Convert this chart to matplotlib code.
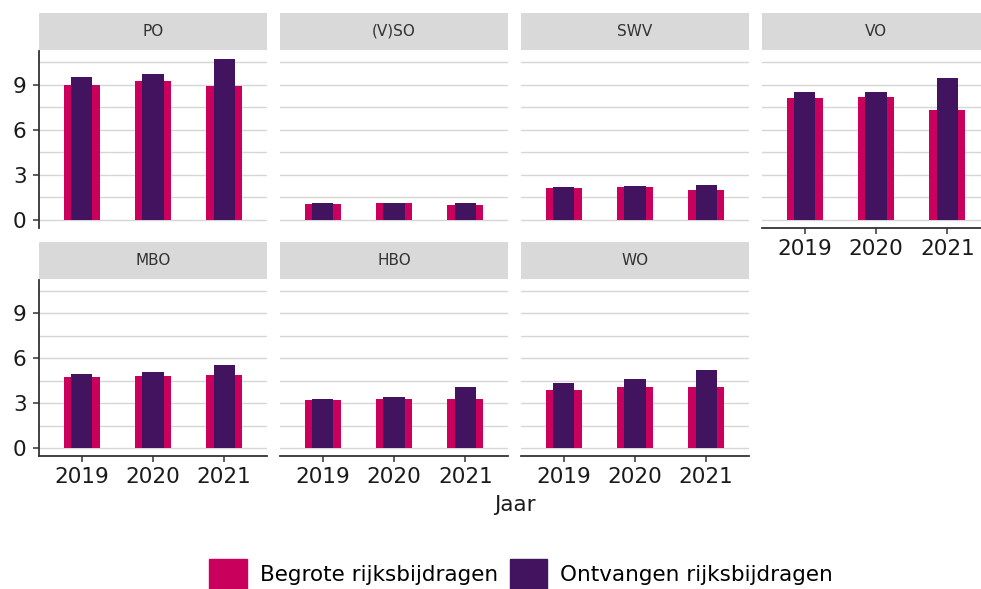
import matplotlib.pyplot as plt
from matplotlib.patches import Patch

# Rijksbijdragen per sector (x mld euro), begroot vs. ontvangen
jaren = ['2019', '2020', '2021']
sectoren = ['PO', '(V)SO', 'SWV', 'VO', 'MBO', 'HBO', 'WO']
begrote = [
    [9.00, 9.27, 8.94],   # PO
    [1.04, 1.10, 1.01],   # (V)SO
    [2.10, 2.16, 2.00],   # SWV
    [8.10, 8.19, 7.30],   # VO
    [4.74, 4.79, 4.87],   # MBO
    [3.18, 3.31, 3.30],   # HBO
    [3.86, 4.06, 4.10],   # WO
]
ontvangen = [
    [9.49, 9.71, 10.68],
    [1.10, 1.15, 1.16],
    [2.16, 2.23, 2.30],
    [8.48, 8.48, 9.47],
    [4.92, 5.05, 5.54],
    [3.26, 3.40, 4.06],
    [4.35, 4.61, 5.19],
]

ROOD = '#CA005D'
VIOLET = '#42145F'
GRID = '#D6D6D6'
AS = '#333333'
TEKST = '#1A1A1A'

W, H = 981, 589
fig = plt.figure(figsize=(W / 100, H / 100), dpi=100)


def box(left, top, width, height):
    return [left / W, 1 - (top + height) / H, width / W, height / H]


x = [1, 2, 3]
panel_w = 228
rijen = [(51, 177, 13), (280, 176, 242)]  # (as boven, hoogte, strip boven)

for i, sector in enumerate(sectoren):
    rij, kol = divmod(i, 4)
    top, hoogte, strip_top = rijen[rij]
    left = 39 + kol * 241

    strip = fig.add_axes(box(left, strip_top, panel_w, 37))
    strip.set_facecolor('#D9D9D9')
    strip.set_xticks([])
    strip.set_yticks([])
    for s in strip.spines.values():
        s.set_visible(False)
    strip.text(0.5, 0.5, sector, ha='center', va='center',
               fontsize=11, color='#333333', transform=strip.transAxes)

    ax = fig.add_axes(box(left, top, panel_w, hoogte))
    ax.bar(x, begrote[i], width=0.5, color=ROOD, zorder=2)
    ax.bar(x, ontvangen[i], width=0.3, color=VIOLET, zorder=3)
    ax.set_xlim(0.4, 3.6)
    ax.set_ylim(-0.535, 11.235)
    ax.set_yticks([0, 3, 6, 9])
    ax.set_yticks([1.5, 4.5, 7.5, 10.5], minor=True)
    ax.set_xticks(x)
    ax.set_xticklabels(jaren)
    ax.grid(axis='y', which='both', color=GRID, linewidth=1.0, zorder=0)
    ax.set_axisbelow(True)
    for s in ax.spines.values():
        s.set_visible(False)
    ax.tick_params(which='minor', left=False, bottom=False)
    ax.tick_params(which='major', labelsize=15.5, colors=AS, labelcolor=TEKST,
                   length=4, width=1.1)
    ax.tick_params(axis='x', pad=4)
    ax.tick_params(axis='y', pad=5)

    heeft_y = kol == 0
    heeft_x = rij == 1 or sector == 'VO'
    if heeft_y:
        ax.spines['left'].set_visible(True)
        ax.spines['left'].set_color(AS)
        ax.spines['left'].set_linewidth(1.3)
    else:
        ax.tick_params(left=False, labelleft=False)
    if heeft_x:
        ax.spines['bottom'].set_visible(True)
        ax.spines['bottom'].set_color(AS)
        ax.spines['bottom'].set_linewidth(1.3)
    else:
        ax.tick_params(bottom=False, labelbottom=False)

fig.text(515 / W, 1 - 505 / H, 'Jaar', ha='center', va='center',
         fontsize=15.5, color=TEKST)

fig.legend(handles=[Patch(color=ROOD), Patch(color=VIOLET)],
           labels=['Begrote rijksbijdragen', 'Ontvangen rijksbijdragen'],
           loc='center', bbox_to_anchor=(521 / W, 1 - 574 / H), ncol=2,
           frameon=False, fontsize=15.5, handlelength=1.75, handleheight=1.75,
           handletextpad=0.6, columnspacing=0.55, borderpad=0.2)

fig.savefig('out.png', dpi=100)
